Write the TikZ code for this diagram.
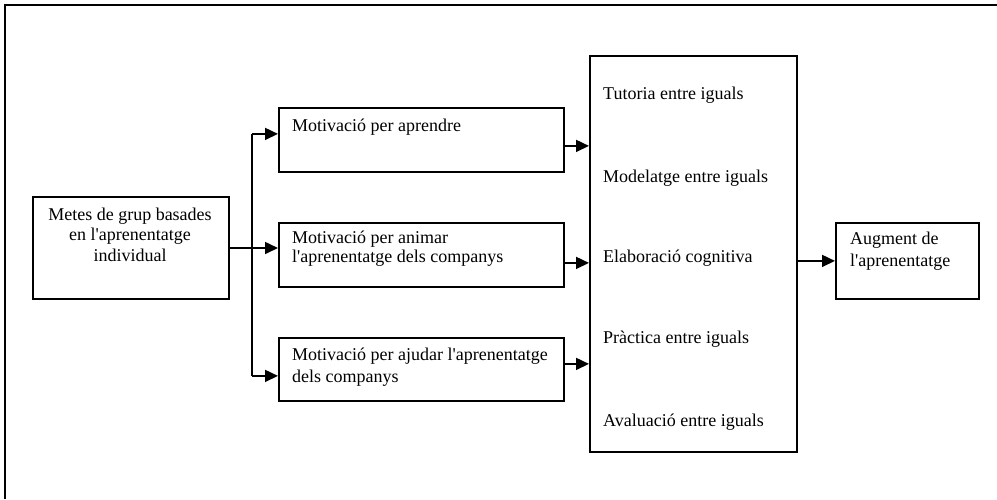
\documentclass[tikz,border=0pt]{standalone}
\usepackage{fontspec}
\setmainfont{Liberation Serif}[Ligatures=TeXOff]
\usetikzlibrary{arrows.meta}
\begin{document}
\begin{tikzpicture}[x=1pt,y=-1pt,
  box/.style={draw,line width=1.8pt,inner sep=0pt,anchor=north west},
  txt/.style={anchor=base west,inner sep=0pt,font=\fontsize{18}{21}\selectfont},
  ctxt/.style={anchor=base,inner sep=0pt,font=\fontsize{18}{21}\selectfont},
  arr/.style={line width=1.6pt,-{Triangle[length=13pt,width=12pt]}},
  ln/.style={line width=1.6pt}]
\useasboundingbox (0,0) rectangle (997,499);
% frame (top and left edges visible)
\coordinate (ftl) at (5,5);
\coordinate (ftr) at (997,5);
\coordinate (fbl) at (5,499);
\draw[line width=1.8pt] (fbl) -- (ftl) -- (ftr);
% boxes
\node[box,minimum width=196pt,minimum height=102pt] (metes) at (32,196) {};
\node[box,minimum width=285pt,minimum height=64pt] (m1) at (278,107) {};
\node[box,minimum width=285pt,minimum height=64pt] (m2) at (278,222) {};
\node[box,minimum width=285pt,minimum height=63pt] (m3) at (278,337) {};
\node[box,minimum width=207pt,minimum height=396pt] (big) at (589,55) {};
\node[box,minimum width=143pt,minimum height=76pt] (out) at (835,222) {};
% texts
\node[ctxt] (t1) at (130,220) {Metes de grup basades};
\node[ctxt] (t2) at (130,240) {en l'aprenentatge};
\node[ctxt] (t3) at (130,261) {individual};
\node[txt] (a1) at (292,131) {Motivació per aprendre};
\node[txt] (b1) at (292,243) {Motivació per animar};
\node[txt] (b2) at (292,262) {l'aprenentatge dels companys};
\node[txt] (c1) at (292,360) {Motivació per ajudar l'aprenentatge};
\node[txt] (c2) at (292,382) {dels companys};
\node[txt] (p1) at (603,99) {Tutoria entre iguals};
\node[txt] (p2) at (603,182) {Modelatge entre iguals};
\node[txt] (p3) at (603,262) {Elaboració cognitiva};
\node[txt] (p4) at (603,343) {Pràctica entre iguals};
\node[txt] (p5) at (603,426) {Avaluació entre iguals};
\node[txt] (o1) at (850,244) {Augment de};
\node[txt] (o2) at (850,266) {l'aprenentatge};
% connectors
\coordinate (jn) at (252,248);
\draw[ln] (metes.east |- jn) -- (jn);
\draw[ln] ([yshift=6pt]m1.west -| jn) -- ([yshift=-6.5pt]m3.west -| jn);
\draw[arr] ([yshift=6pt]m1.west -| jn) -- ([yshift=6pt]m1.west);
\draw[arr] (jn) -- (jn -| m2.west);
\draw[arr] ([yshift=-6.5pt]m3.west -| jn) -- ([yshift=-6.5pt]m3.west);
\draw[arr] ([yshift=-6pt]m1.east) -- ([yshift=-6pt]m1.east -| big.west);
\draw[arr] ([yshift=-8pt]m2.east) -- ([yshift=-8pt]m2.east -| big.west);
\draw[arr] ([yshift=5.5pt]m3.east) -- ([yshift=5.5pt]m3.east -| big.west);
\draw[arr] (out.west -| big.east) -- (out.west);
\end{tikzpicture}
\end{document}
